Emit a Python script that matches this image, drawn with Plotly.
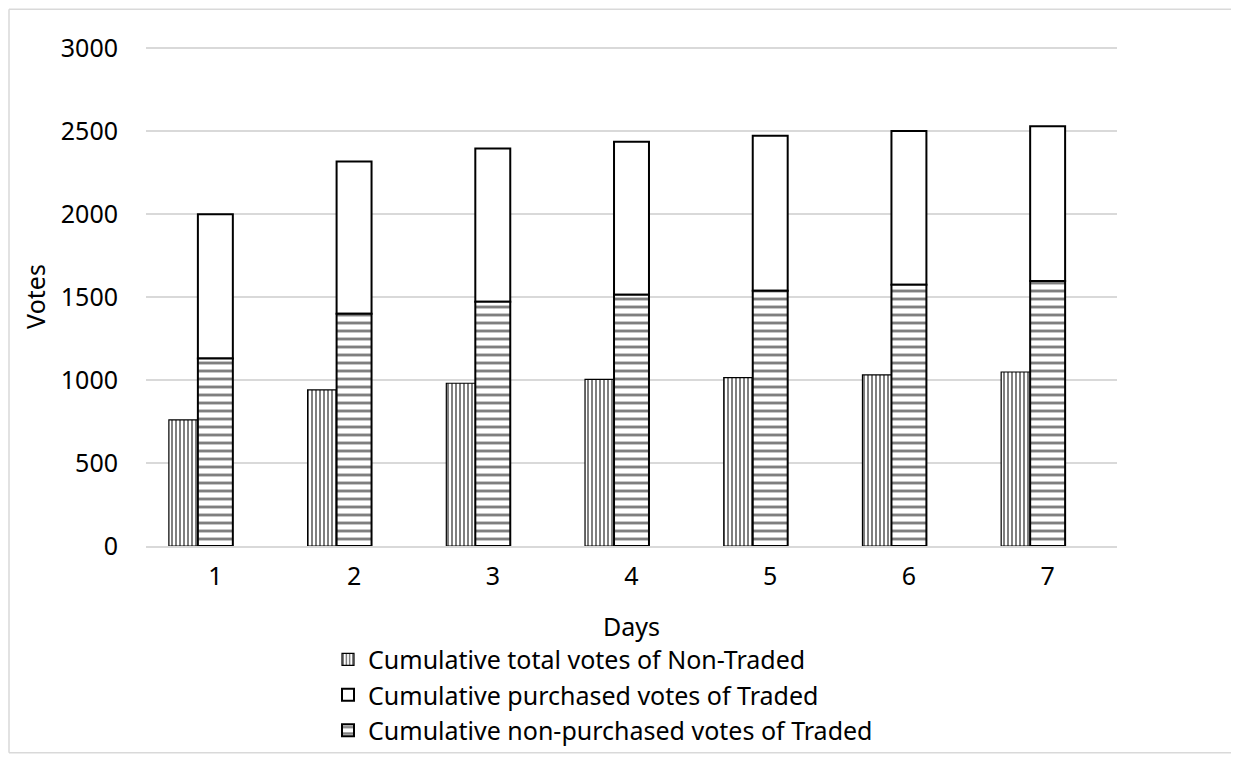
import plotly.graph_objects as go

days = [1, 2, 3, 4, 5, 6, 7]
non_traded_total = [760, 941, 981, 1005, 1015, 1031, 1049]
traded_non_purchased = [1131, 1400, 1472, 1514, 1538, 1575, 1598]
traded_purchased = [869, 918, 924, 923, 935, 926, 933]
y_ticks = [0, 500, 1000, 1500, 2000, 2500, 3000]

names = [
    "Cumulative total votes of Non-Traded",
    "Cumulative purchased votes of Traded",
    "Cumulative non-purchased votes of Traded",
]

FONT = "Noto Sans"
FS = 25

fig = go.Figure()
fig.add_trace(go.Bar(
    x=days, y=non_traded_total, name=names[0],
    offset=-0.335, width=0.21,
    marker=dict(color="white", line=dict(color="black", width=1.2),
                pattern=dict(shape="|", size=4, solidity=0.5, fgcolor="black", bgcolor="white")),
))
fig.add_trace(go.Bar(
    x=days, y=traded_purchased, base=traded_non_purchased, name=names[1],
    offset=-0.126, width=0.252,
    marker=dict(color="white", line=dict(color="black", width=2)),
))
fig.add_trace(go.Bar(
    x=days, y=traded_non_purchased, name=names[2],
    offset=-0.126, width=0.252,
    marker=dict(color="white", line=dict(color="black", width=2),
                pattern=dict(shape="-", size=8, solidity=0.36, fgcolor="black", bgcolor="white")),
))

# figure is placed at (8, 8) in the page; plot area spans screen x 146-1117, y 47-548
PL, PT, PW, PH = 138, 39, 971, 501.3
bx0 = (1 - PL) / PW
bx1 = (1300 - PL) / PW
by0 = (PT + PH - 748) / PH
by1 = (PT + PH - 1) / PH
border = dict(color="#d9d9d9", width=1.5)
fig.update_layout(
    width=1239, height=757,
    barmode="overlay",
    paper_bgcolor="white", plot_bgcolor="white",
    margin=dict(l=PL, r=1239 - PL - PW, t=PT, b=757 - PT - PH),
    font=dict(family=FONT, size=FS, color="black"),
    showlegend=True,
    legend=dict(orientation="v", x=(328 - 146) / 971, xanchor="left", y=-0.1815, yanchor="top",
                font=dict(size=FS), traceorder="normal", itemwidth=30,
                bgcolor="rgba(0,0,0,0)"),
    xaxis=dict(range=[0.5, 7.5], tickmode="array", tickvals=days,
               ticktext=[str(d) for d in days], showgrid=False,
               showline=True, linecolor="#d9d9d9", linewidth=1.5,
               ticks="", tickfont=dict(size=FS), ticklabelstandoff=7,
               title=dict(text="Days", font=dict(size=FS), standoff=28)),
    yaxis=dict(range=[0, 3008], tickmode="array", tickvals=y_ticks,
               showgrid=True, gridcolor="#d9d9d9", gridwidth=1.5, zeroline=False,
               ticks="", tickfont=dict(size=FS), ticklabelstandoff=27,
               title=dict(text="Votes", font=dict(size=FS), standoff=8)),
    shapes=[
        dict(type="line", xref="paper", yref="paper", x0=bx0, x1=bx0, y0=by0, y1=by1, line=border, layer="below"),
        dict(type="line", xref="paper", yref="paper", x0=bx0, x1=bx1, y0=by1, y1=by1, line=border, layer="below"),
        dict(type="line", xref="paper", yref="paper", x0=bx0, x1=bx1, y0=by0, y1=by0, line=border, layer="below"),
    ],
)

fig.write_html("out.html")
